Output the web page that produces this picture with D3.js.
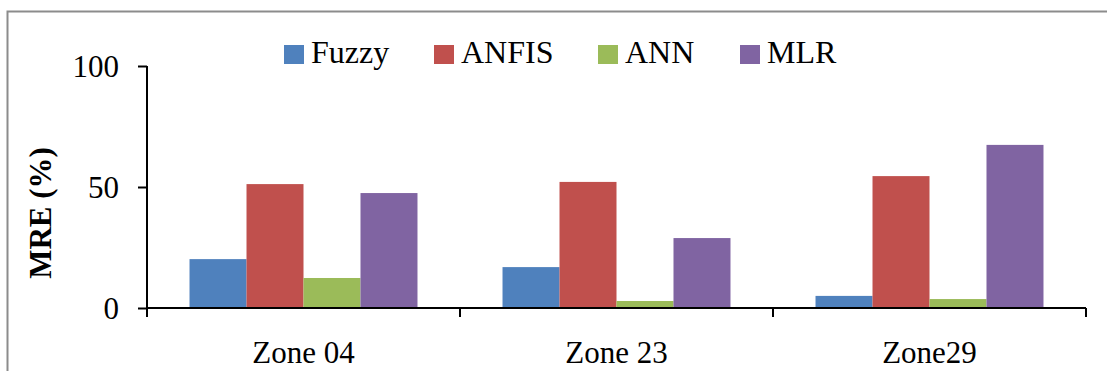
<!DOCTYPE html>
<html>
<head>
<meta charset="utf-8">
<script src="https://cdn.jsdelivr.net/npm/d3@7"></script>
</head>
<body style="margin:0">
<svg id="chart" width="1107" height="371"></svg>
<script>
// Mean relative error (%) per zone for each model
const zones = ["Zone 04", "Zone 23", "Zone29"];
const models = ["Fuzzy", "ANFIS", "ANN", "MLR"];
const fuzzy = [20.2, 16.9, 5.0];
const anfis = [51.2, 52.1, 54.5];
const ann = [12.4, 2.9, 3.7];
const mlr = [47.5, 28.9, 67.4];
const yTicks = [0, 50, 100];
const colors = ["#4F81BD", "#C0504D", "#9BBB59", "#8064A2"];

(function () {
  const FONT = '"Liberation Serif", "Times New Roman"';
  const seriesValues = [fuzzy, anfis, ann, mlr];
  const rows = zones.map((z, i) => ({
    zone: z,
    values: models.map((m, j) => ({ model: m, value: seriesValues[j][i] }))
  }));

  const svg = d3.select("#chart");
  const W = 1107, H = 371;
  const plotLeft = 147, plotRight = 1086, plotTop = 66, plotBottom = 308;

  // place a serif label at (x, y), optionally rotated
  const label = (parent, x, y, txt, opts = {}) => parent.append("text")
    .attr("transform", `translate(${x},${y})${opts.rotate ? ` rotate(${opts.rotate})` : ""}`)
    .attr("text-anchor", opts.anchor || "start")
    .style("font-family", FONT).style("font-size", (opts.size || 31) + "px")
    .style("font-weight", opts.bold ? "bold" : "normal")
    .attr("fill", "#000")
    .text(txt);

  // outer frame (only top and left edges fall inside the view)
  svg.append("path")
    .attr("d", `M7.5,${H} V11.5 H${W}`)
    .attr("fill", "none").attr("stroke", "#8c8c8c").attr("stroke-width", 2);

  const x0 = d3.scaleBand().domain(zones).range([plotLeft, plotRight]).paddingInner(0).paddingOuter(0);
  const x1 = d3.scaleBand().domain(models).range([0, x0.bandwidth()]).paddingInner(0).paddingOuter(0.746);
  const y = d3.scaleLinear().domain([0, 100]).range([plotBottom, plotTop]);

  // bars
  const groups = svg.append("g").selectAll("g").data(rows).join("g")
    .attr("transform", d => `translate(${x0(d.zone)},0)`);
  groups.selectAll("rect").data(d => d.values).join("rect")
    .attr("x", d => x1(d.model))
    .attr("width", x1.bandwidth())
    .attr("y", d => y(d.value))
    .attr("height", d => y(0) - y(d.value))
    .attr("fill", (d, i) => colors[i]);

  // y axis
  const yAxis = svg.append("g").attr("transform", `translate(${plotLeft},0)`)
    .call(d3.axisLeft(y).tickValues(yTicks).tickSize(9).tickPadding(10).tickFormat(d3.format("d")));
  yAxis.select(".domain").attr("stroke", "#000").attr("stroke-width", 2)
    .attr("d", `M0,${plotTop} V${plotBottom + 9}`);
  yAxis.selectAll(".tick line").attr("stroke", "#000").attr("stroke-width", 2);
  yAxis.selectAll(".tick text").remove();
  yAxis.selectAll(".tick").each(function (d) {
    label(d3.select(this), -28, 0, d3.format("d")(d), { anchor: "end" }).attr("dy", "0.34em");
  });

  // x axis with category boundary ticks
  const xAxis = svg.append("g").attr("transform", `translate(0,${plotBottom})`);
  xAxis.append("line").attr("x1", plotLeft).attr("x2", plotRight).attr("y1", 0).attr("y2", 0)
    .attr("stroke", "#000").attr("stroke-width", 2);
  const bounds = zones.map(z => x0(z) + x0.bandwidth());
  xAxis.selectAll(".bt").data(bounds).join("line")
    .attr("x1", d => d).attr("x2", d => d).attr("y1", 0).attr("y2", 9)
    .attr("stroke", "#000").attr("stroke-width", 2);
  zones.forEach(z => label(xAxis, x0(z) + x0.bandwidth() / 2, 55, z, { anchor: "middle" }));

  // y title
  label(svg, 51, 213, "MRE (%)", { anchor: "middle", rotate: -90, bold: true });

  // legend
  const legendX = [284, 434, 598, 740];
  models.forEach((m, i) => {
    const g = svg.append("g").attr("transform", `translate(${legendX[i]},45)`);
    g.append("rect").attr("width", 20).attr("height", 19).attr("fill", colors[i]);
    label(g, 27, 17.5, m, { size: 32 });
  });
})();
</script>
</body>
</html>
